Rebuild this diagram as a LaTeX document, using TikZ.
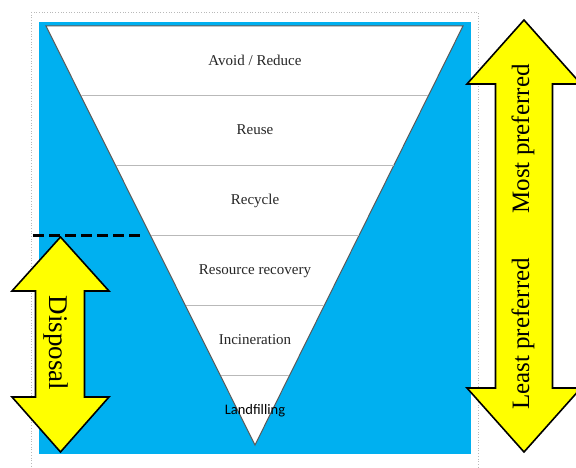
\documentclass[tikz,border=0pt]{standalone}
\usepackage{fontspec}
\setmainfont{Liberation Serif}
\newfontfamily\calibri{Carlito}
\usetikzlibrary{calc}
\definecolor{skyblue}{HTML}{00B0F0}
\definecolor{arrowyellow}{HTML}{FFFF00}
\begin{document}
\begin{tikzpicture}[x=1pt,y=-1pt,
  levellabel/.style={font=\fontsize{15}{18}\selectfont, text=black!85, inner sep=0pt},
  levelline/.style={draw=gray!55, line width=1pt},
  yellowarrow/.style={fill=arrowyellow, draw=black, line width=1.6pt, line join=miter},
  bigtext/.style={inner sep=0pt, text=black}]
\useasboundingbox (0,0) rectangle (576,468);
\clip (0,0) rectangle (576,468);
% frame
\draw[gray!55, dotted, line width=0.7pt] (31,12) rectangle (478,490);
% blue background
\fill[skyblue] (39,22) rectangle (471,454);
% inverted triangle
\coordinate (TL) at (46,26);
\coordinate (TR) at (463,26);
\coordinate (B) at (255,445);
\draw[fill=white, draw=black!65, line width=1pt, line join=miter] (TL) -- (TR) -- (B) -- cycle;
\foreach \yy in {96,166,236,306,376} {
  \pgfmathsetmacro\tt{(\yy-26)/419}
  \draw[levelline] ($(TL)!\tt!(B)$) -- ($(TR)!\tt!(B)$);
}
% level labels
\node[levellabel] (avoid) at (255,60) {Avoid / Reduce};
\node[levellabel] (reuse) at (255,130) {Reuse};
\node[levellabel] (recycle) at (255,201) {Recycle};
\node[levellabel] (recovery) at (255,271) {Resource recovery};
\node[levellabel] (incin) at (255,340) {Incineration};
\node[inner sep=0pt, font=\calibri\fontsize{14.5}{17}\selectfont, text=black] (landfill) at (255,411) {Landfilling};
% disposal arrow
\draw[yellowarrow] (60.5,237) -- (109,291) -- (84.5,291) -- (84.5,397) -- (109,397)
  -- (60.5,452) -- (12,397) -- (35.5,397) -- (35.5,291) -- (12,291) -- cycle;
\node[bigtext, rotate=-90, font=\fontsize{27}{30}\selectfont] (disposal) at (56,343) {Disposal};
% dashed boundary
\coordinate (dashA) at (33,235);
\coordinate (dashB) at (143,235);
\draw[black, line width=3pt, dash pattern=on 11pt off 5pt] (dashA) -- (dashB);
% preference arrow
\draw[yellowarrow] (524,20) -- (581,84) -- (552.5,84) -- (552.5,388) -- (581,388)
  -- (524,452) -- (467,388) -- (495.5,388) -- (495.5,84) -- (467,84) -- cycle;
\node[bigtext, rotate=90, font=\fontsize{25}{28}\selectfont] (most) at (523,139) {Most preferred};
\node[bigtext, rotate=90, font=\fontsize{25}{28}\selectfont] (least) at (523,334) {Least preferred};
\end{tikzpicture}
\end{document}
